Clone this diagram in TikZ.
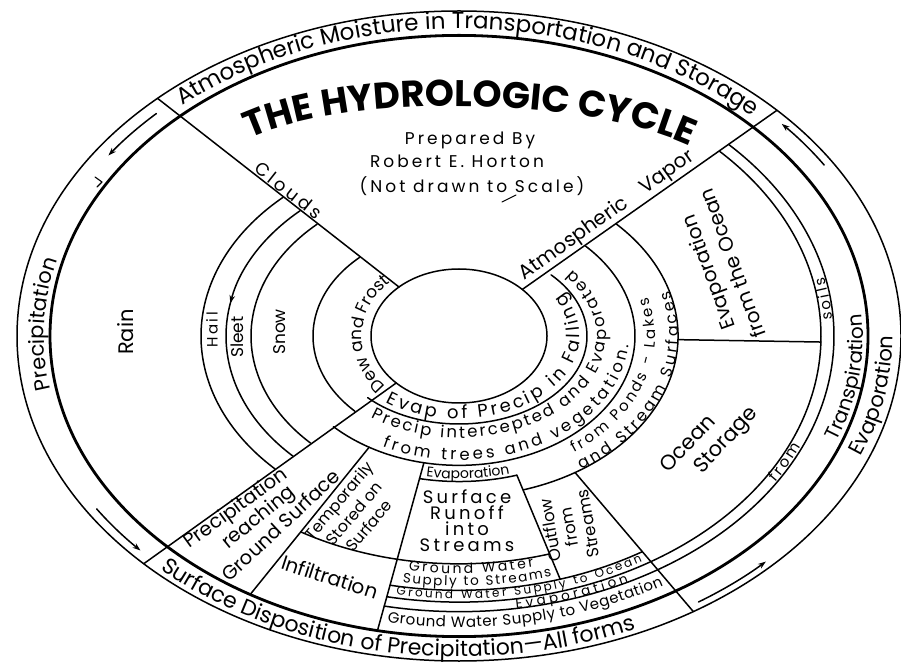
\documentclass[tikz,border=0pt]{standalone}
\usepackage{fontspec}
\setmainfont{Poppins}
\newfontfamily\pf{Poppins}
\newfontfamily\pfs[LetterSpace=18]{Poppins}
\usetikzlibrary{decorations.text,arrows.meta}
\newcommand\fTop{\pf\fontsize{23}{25}\selectfont}
\newcommand\fLeft{\pf\fontsize{21}{23}\selectfont}
\newcommand\fBot{\pf\fontsize{22}{24}\selectfont}
\newcommand\fRight{\pf\fontsize{21}{23}\selectfont}
\newcommand\fTrans{\pf\fontsize{20}{22}\selectfont}
\newcommand\fSoil{\pf\fontsize{15}{17}\selectfont\kern2.7pt}
\newcommand\fTitle{\pf\bfseries\fontsize{37}{39}\selectfont}
\newcommand\fDew{\pf\fontsize{17}{19}\selectfont}
\newcommand\fEvp{\pf\fontsize{18}{20}\selectfont\kern3.1pt}
\newcommand\fInt{\pf\fontsize{16.5}{18}\selectfont\kern2.4pt}
\newcommand\fIntb{\pf\fontsize{16.5}{18}\selectfont\kern3.3pt}
\newcommand\fEvl{\pf\fontsize{14}{16}\selectfont}
\newcommand\fPond{\pf\fontsize{15}{17}\selectfont\kern2.7pt}
\newcommand\fPondb{\pf\fontsize{16}{18}\selectfont\kern2.9pt}
\newcommand\fGw{\pf\fontsize{14}{16}\selectfont\kern2.5pt}
\newcommand\fGws{\pf\fontsize{13.5}{16}\selectfont\kern1.7pt}
\newcommand\fGwe{\pf\fontsize{13.5}{16}\selectfont\kern3.5pt}
\newcommand\fGwo{\pf\fontsize{12}{14}\selectfont\kern2.4pt}
\newcommand\fGwv{\pf\fontsize{15}{17}\selectfont\kern0.5pt}
\tikzset{
  ea/.style n args={3}{insert path={(#2:#1 and {#1*0.735}) arc[start angle=#2,end angle=#3,x radius=#1,y radius={#1*0.735}]}},
  eb/.style n args={4}{insert path={(#3:#1 and #2) arc[start angle=#3,end angle=#4,x radius=#1,y radius=#2]}},
  rl/.style n args={3}{insert path={(#1:#2 and {#2*0.735}) -- (#1:#3 and {#3*0.735})}},
  ctext/.style={decorate,decoration={text along path,text align=center,text={#1}}},
  ltext/.style={decorate,decoration={text along path,text align=left,text={#1}}},
  arrtip/.style={-{Stealth[length=8pt,width=5.5pt]}},
}
\begin{document}
\begin{tikzpicture}[x=1pt,y=1pt,line width=1.5pt,line cap=round,line join=round]
\useasboundingbox (0,0) rectangle (901,664);
\fill[white] (0,0) rectangle (901,664);
\begin{scope}[shift={(459,328)}]
  % rings
  \draw (0,0) ellipse[x radius=442,y radius=325];
  \draw[line width=2.8pt] (0,0) ellipse[x radius=409,y radius=300.6];
  \draw (0,0) ellipse[x radius=88,y radius=67];
  % radial lines
  \draw (133:88 and 67) -- (133:442 and 324.9);
  \draw (44:88 and 67) -- (44:442 and 324.9);
  \draw (224.5:88 and 67) -- (224.5:442 and 324.9);
  \draw[rl={239.3}{176}{409}];
  \draw[rl={258.5}{176}{409}];
  \draw[rl={-73}{198}{346}];
  \draw[rl={-58}{219}{442}];
  \draw[rl={-1.3}{219}{362}];
  % left arcs
  \draw[ea={258}{133}{224.5}];
  \draw[arrtip,ea={233}{133}{169}];
  \draw[ea={233}{168}{224.5}];
  \draw[ea={208}{133}{224.5}];
  \draw[ea={146}{133}{224.5}];
  % right and lower arcs
  \draw[eb={128}{88}{224.5}{404}];
  \draw[ea={176}{224.5}{404}];
  \draw[ea={198}{258.5}{287}];
  \draw[ea={219}{287}{404}];
  \draw[ea={310}{239.3}{287}];
  \draw[ea={346}{258.5}{302}];
  \draw[ea={362}{258.5}{404}];
  \draw[ea={375}{258.5}{404}];
  % outer arrows
  \draw[arrtip,ea={428}{135}{145}];
  \draw[arrtip,ea={432}{213}{222.5}];
  \draw[arrtip,ea={434}{-56.5}{-45}];
  \draw[arrtip,ea={433}{32.5}{41.8}];
  % curved texts
  \path[ea={418}{131}{46},ctext={|\fTop|Atmospheric Moisture in Transportation and Storage}];
  \path[ea={415}{210}{146},ctext={|\fLeft|Precipitation}];
  \path[ea={436}{224.5}{296},ctext={|\fBot|Surface Disposition of Precipitation—All forms}];
  \path[ea={434}{-45}{25},ctext={|\fRight|Evaporation}];
  \path[ea={404}{-42}{27},ctext={|\fTrans|Transpiration}];
  \path[ea={374}{-45}{-10},ctext={|\fSoil|from}];
  \path[ea={374}{-5}{20},ctext={|\fSoil|soils}];
  \path[eb={121}{83}{231}{400},ltext={|\fEvp|Evap of Precip in Falling}];
  \path[eb={147}{102}{232}{410},ltext={|\fInt|Precip intercepted and Evaporated}];
  \path[eb={170}{124}{242}{385},ltext={|\fIntb|from trees and vegetation.}];
  \path[eb={97}{76}{220}{136},ctext={|\fDew|Dew and Frost}];
  \path[ea={194}{258.5}{287},ctext={|\fEvl|Evaporation}];
  \path[ea={196}{-55}{25},ltext={|\fPond|from Ponds - Lakes}];
  \path[ea={219}{-57}{25},ltext={|\fPondb|and Stream Surfaces}];
  \path[ea={323}{259}{285},ctext={|\fGw|Ground Water}];
  \path[ea={340}{259}{287},ctext={|\fGws|Supply to Streams}];
  \path[ea={357.5}{259.5}{303},ltext={|\fGwo|Ground Water Supply to Ocean}];
  \path[ea={375.5}{266}{310},ctext={|\fGwe|Evaporation}];
  \path[ea={396}{259.5}{302},ltext={|\fGwv|Ground Water Supply to Vegetation}];
  % labels along straight lines
  \node[font={\pfs\fontsize{18}{20}\selectfont},rotate=-38.2,anchor=south,inner sep=1.5pt] (clouds) at (133:258 and 189.6) {Clouds};
  \node[font={\pf\fontsize{20}{22}\selectfont},rotate=35.4,anchor=south,inner sep=1.5pt] (atmos) at (44:170 and 125) {Atmospheric};
  \node[font={\pf\fontsize{20}{22}\selectfont},rotate=35.4,anchor=south,inner sep=1.5pt] (vapor) at (44:300 and 220.5) {Vapor};
\end{scope}
% title
\path[ctext={|\fTitle|THE HYDROLOGIC CYCLE}] (238,519) .. controls (330,572) and (590,572) .. (702,512);
\node[font={\pfs\fontsize{17}{20}\selectfont}] (prep) at (470,524) {Prepared By};
\node[font={\pfs\fontsize{17}{20}\selectfont}] (rob) at (457,503) {Robert E. Horton};
\node[font={\pfs\fontsize{17}{20}\selectfont}] (nds) at (472,478) {(Not drawn to Scale)};
\draw[line width=1pt] (502,462) -- (516,469);
% left sector labels
\node[font={\pf\fontsize{21}{24}\selectfont},rotate=90] (rain) at (126,332) {Rain};
\node[font={\pfs\fontsize{15}{17}\selectfont},rotate=90] (hail) at (212,334) {Hail};
\node[font={\pf\fontsize{17}{19}\selectfont},rotate=90] (sleet) at (237,327) {Sleet};
\node[font={\pf\fontsize{17}{19}\selectfont},rotate=90] (snow) at (280,332) {Snow};
\draw[line width=1.1pt] (95,487) -- (102,482) -- (97,477);
% lower sector labels
\node[font={\pf\fontsize{19.5}{22}\selectfont},rotate=36] (prg1) at (236.5,155) {Precipitation};
\node[font={\pf\fontsize{19.5}{22}\selectfont},rotate=39] (prg2) at (259,146) {reaching};
\node[font={\pf\fontsize{19.5}{22}\selectfont},rotate=43] (prg3) at (280.5,139) {Ground Surface};
\node[font={\pf\fontsize{16}{19.5}\selectfont},rotate=50,align=center] (tmp) at (354,151) {Temporarily\\Stored on\\Surface};
\node[font={\pf\fontsize{20}{22}\selectfont},rotate=-18] (inf) at (330,87) {Infiltration};
\node[font={\pfs\fontsize{18}{16}\selectfont},align=center] (sro) at (467,143) {Surface\\Runoff\\into\\Streams};
\node[font={\pf\fontsize{16.5}{19}\selectfont},rotate=100,align=center] (out) at (569,137) {Outflow\\from\\Streams};
\node[font={\pf\fontsize{21}{23}\selectfont},rotate=47] (oc1) at (687,221) {Ocean};
\node[font={\pf\fontsize{21}{23}\selectfont},rotate=47] (oc2) at (727,223) {Storage};
\node[font={\pf\fontsize{20}{26}\selectfont},rotate=110,align=center] (evo) at (720,396) {Evaporation\\from the Ocean};
\end{tikzpicture}
\end{document}
